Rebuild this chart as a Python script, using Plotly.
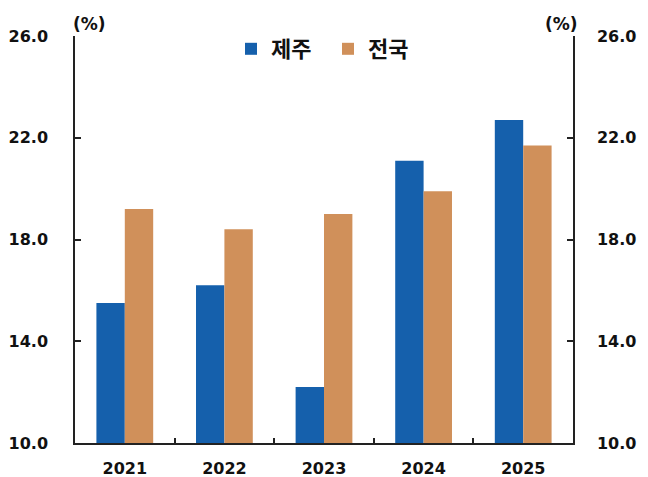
import plotly.graph_objects as go

years = ["2021", "2022", "2023", "2024", "2025"]
jeju = [15.5, 16.2, 12.2, 21.1, 22.7]
national = [19.2, 18.4, 19.0, 19.9, 21.7]
y_ticks = [10, 14, 18, 22, 26]
y_tick_text = ["10.0", "14.0", "18.0", "22.0", "26.0"]

BLUE = "#1560AC"
ORANGE = "#D0905A"
INK = "#111111"
num_font = dict(family="DejaVu Sans", size=16, color=INK, weight="bold")

L, R, T, B = 75, 75, 36, 34
W, H = 648, 477
pw, ph = W - L - R, H - T - B

fig = go.Figure()
fig.add_trace(go.Bar(x=years, y=jeju, name="제주", marker=dict(color=BLUE, line=dict(width=0))))
fig.add_trace(go.Bar(x=years, y=national, name="전국", marker=dict(color=ORANGE, line=dict(width=0))))
fig.add_trace(go.Scatter(x=years, y=jeju, yaxis="y2", mode="markers", marker=dict(opacity=0),
                         showlegend=False, hoverinfo="skip"))

axis_common = dict(range=[10, 26], tickvals=y_ticks, ticktext=y_tick_text, showline=True, linecolor="#222",
                   linewidth=1.5, ticks="inside", ticklen=6, tickcolor="#222", tickwidth=1.5, showgrid=False,
                   zeroline=False, tickfont=num_font, automargin=False)

fig.update_layout(
    width=W, height=H,
    margin=dict(l=L, r=R, t=T, b=B, autoexpand=False),
    plot_bgcolor="white", paper_bgcolor="white",
    barmode="group", bargap=0.43, bargroupgap=0,
    font=dict(family="Noto Sans CJK KR", color=INK),
    legend=dict(orientation="h", x=(231 - L) / pw, xanchor="left", y=(H - B - 49) / ph, yanchor="middle",
                font=dict(family="Noto Sans CJK KR", size=22, color=INK, weight="bold"),
                itemwidth=30, entrywidth=52, bgcolor="rgba(0,0,0,0)"),
    xaxis=dict(showline=True, linecolor="#222", linewidth=1.5, ticks="inside", tickson="boundaries",
               ticklen=5, tickcolor="#222", tickwidth=1.5, showgrid=False, automargin=False,
               tickfont=num_font, ticklabelstandoff=10),
    yaxis=dict(**axis_common, ticklabelstandoff=22),
    yaxis2=dict(**axis_common, overlaying="y", side="right", ticklabelstandoff=19),
    annotations=[
        dict(text="<b>(%)</b>", x=(89 - L) / pw, y=(H - B - 24) / ph, xref="paper", yref="paper",
             xanchor="center", yanchor="middle", showarrow=False,
             font=dict(family="DejaVu Sans", size=17, color=INK)),
        dict(text="<b>(%)</b>", x=(561 - L) / pw, y=(H - B - 24) / ph, xref="paper", yref="paper",
             xanchor="center", yanchor="middle", showarrow=False,
             font=dict(family="DejaVu Sans", size=17, color=INK)),
    ],
)
fig.write_html("out.html", config={"displayModeBar": False},
               post_script="document.body.style.margin='0';")
